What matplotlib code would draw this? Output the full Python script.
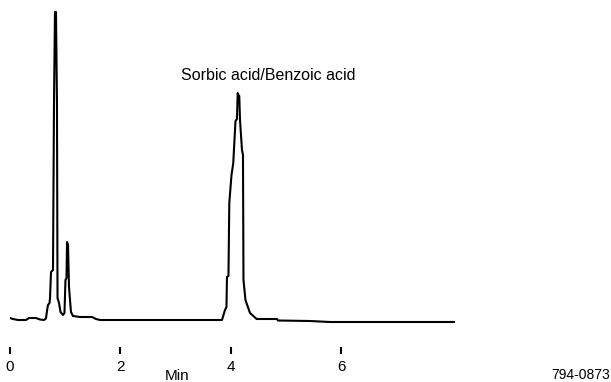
"""Chromatogram: sorbic acid / benzoic acid peak."""
import matplotlib.pyplot as plt

plt.rcParams["font.family"] = ["Liberation Sans", "DejaVu Sans"]

# retention time (min) and detector signal (arbitrary units)
time_min = [0.000, 0.054, 0.145, 0.290, 0.344, 0.471, 0.543, 0.616, 0.652, 0.670,
            0.688, 0.716, 0.725, 0.743, 0.779, 0.797, 0.815, 0.833, 0.851, 0.861,
            0.888, 0.915, 0.960, 0.987, 1.005, 1.024, 1.033, 1.051, 1.069, 1.087,
            1.105, 1.141, 1.268, 1.486, 1.558, 1.630, 2.536, 3.841, 3.895, 3.922,
            3.931, 3.958, 3.973, 4.013, 4.045, 4.085, 4.112, 4.125, 4.139, 4.154,
            4.167, 4.203, 4.221, 4.230, 4.266, 4.348, 4.469, 4.837, 4.855, 5.435,
            5.797, 8.043]
signal = [7, 6, 5, 5, 7, 7, 5.5, 5, 6.5, 14,
          20, 22, 27, 53, 55, 222, 313, 313, 222, 27,
          22, 13, 10, 12, 45, 47, 83, 80, 38, 25,
          13, 9, 8, 8, 6, 5, 5, 5, 15, 18,
          48, 49, 122, 150, 162, 204, 206, 232, 230, 229,
          205, 175, 170, 45, 25, 12, 6, 6, 4.5, 4,
          3, 3]

tick_min = [0, 2, 4, 6]
tick_labels = ["0", "2", "4", "6"]

fig = plt.figure(figsize=(6.11, 3.82), dpi=100)
ax = fig.add_axes([10 / 611, 28 / 382, 452.6 / 611, 354 / 382])

ax.plot(time_min, signal, color="black", linewidth=1.5)

ax.set_xlim(0, 8.2)
ax.set_ylim(-29, 325)
for side in ["top", "right", "left", "bottom"]:
    ax.spines[side].set_visible(False)
ax.set_yticks([])
ax.set_xticks(tick_min)
ax.set_xticklabels(tick_labels, fontsize=11)
ax.tick_params(axis="x", direction="in", length=4.75, width=1.5, pad=4.5, color="black")

fig.text(181 / 611, (382 - 80) / 382, "Sorbic acid/Benzoic acid", fontsize=11.5,
         ha="left", va="baseline")
fig.text(165 / 611, (382 - 380) / 382, "Min", fontsize=11, ha="left", va="baseline")
fig.text(609.5 / 611, (382 - 379) / 382, "794-0873", fontsize=10, ha="right", va="baseline")

plt.savefig("out.png", dpi=100, facecolor="white")
